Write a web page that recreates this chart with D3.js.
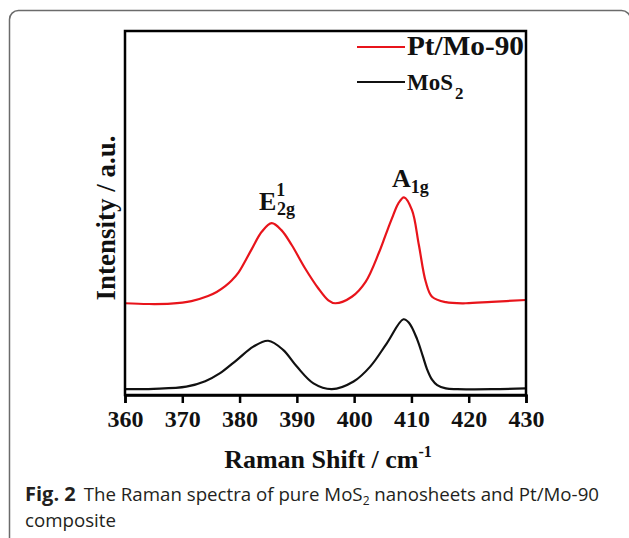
<!DOCTYPE html>
<html lang="en">
    <head>
        <meta charset="UTF-8" />
        <title>Raman spectra</title>
        <script src="https://d3js.org/d3.v7.min.js"></script>
        <style>
            body { margin: 0; background: #fff; }
            .serif { font-family: "Liberation Serif", "Times New Roman", serif; font-weight: bold; }
            .caption { font-family: "Open Sans", "Noto Sans", sans-serif; fill: #231f20; }
        </style>
    </head>
    <body>
        <div class="canvas"></div>
        <script>
            // Pt/Mo-90 spectrum (red)
            const ptShift = [360, 364, 368, 371.6, 374.5, 376, 377.5, 378.7, 379.8, 382.1, 383.9, 385.6, 387.3, 389.1, 391.4, 393.7, 395.5, 396.7, 399.6, 402, 404.3, 405.5, 406.6, 407.7, 408.7, 410.1, 411.3, 412.5, 413.6, 416, 419.5, 424, 430];
            const ptIntensity = [25.2, 25.0, 25.1, 25.8, 27.2, 28.3, 29.9, 31.6, 33.6, 40.0, 44.9, 47.2, 45.3, 41.2, 34.9, 29.4, 26.0, 25.2, 27.0, 31.1, 39.0, 44.0, 48.5, 52.6, 54.3, 50.8, 41.2, 31.1, 27.0, 25.5, 25.2, 25.6, 26.1];

            // pure MoS2 spectrum (black)
            const mosShift = [360, 365, 370.7, 374, 376.6, 379.5, 382.4, 385, 387.6, 390, 392.9, 396.1, 399.9, 402.8, 405.7, 408.6, 409.6, 411, 412, 412.7, 413.6, 414.5, 416, 418, 424, 430];
            const mosIntensity = [1.6, 1.7, 2.3, 3.8, 6.0, 9.6, 13.3, 14.9, 12.4, 7.8, 3.2, 1.6, 3.7, 7.8, 14.2, 20.8, 19.8, 15.3, 10.6, 7.2, 4.2, 2.7, 1.8, 1.6, 1.6, 1.8];

            const xTicks = [360, 370, 380, 390, 400, 410, 420, 430];

            const width = 629;
            const height = 538;
            let [mt, mb, mr, ml] = [31, 143, 103, 125];

            const svg = d3
                .select(".canvas")
                .append("svg")
                .attr("width", width)
                .attr("height", height);

            // outer rounded frame of the figure panel
            svg.append("rect")
                .attr("x", 9.5)
                .attr("y", 10.5)
                .attr("width", 621)
                .attr("height", 540)
                .attr("rx", 9)
                .attr("fill", "none")
                .attr("stroke", "#6b6b6b")
                .attr("stroke-width", 1.5);

            const x = d3.scaleLinear().domain([360, 430]).range([ml, width - mr]);
            const y = d3.scaleLinear().domain([0, 100]).range([height - mb, mt]);

            const line = d3
                .line()
                .x((d) => x(d[0]))
                .y((d) => y(d[1]))
                .curve(d3.curveCatmullRom);

            const series = [
                { name: "Pt/Mo-90", color: "#e8141b", shift: ptShift, value: ptIntensity },
                { name: "MoS", sub: "2", color: "#111", shift: mosShift, value: mosIntensity },
            ];

            series.forEach((s) => {
                svg.append("path")
                    .attr("fill", "none")
                    .attr("stroke", s.color)
                    .attr("stroke-width", 2.2)
                    .attr("d", line(s.shift.map((v, i) => [v, s.value[i]])));
            });

            // plot box
            svg.append("rect")
                .attr("x", x(360))
                .attr("y", y(100))
                .attr("width", x(430) - x(360))
                .attr("height", y(0) - y(100))
                .attr("fill", "none")
                .attr("stroke", "#000")
                .attr("stroke-width", 2.5);

            const xAxisG = svg
                .append("g")
                .attr("transform", `translate(0, ${y(0)})`)
                .call(d3.axisBottom(x).tickValues(xTicks).tickSize(8).tickFormat(d3.format("d")));
            xAxisG.select(".domain").attr("stroke-width", 2.5);
            xAxisG.selectAll(".tick line").attr("stroke-width", 2.5);
            xAxisG
                .selectAll("text")
                .attr("class", "serif")
                .attr("fill", "#111")
                .style("font-size", "24px")
                .attr("y", 15);

            // axis titles
            const xt = svg
                .append("text")
                .attr("class", "serif")
                .attr("x", 328)
                .attr("y", 468)
                .attr("text-anchor", "middle")
                .style("font-size", "26px")
                .attr("fill", "#111");
            xt.append("tspan").text("Raman Shift / cm");
            xt.append("tspan").attr("dy", -11).style("font-size", "16px").text("-1");

            svg.append("text")
                .attr("class", "serif")
                .attr("transform", "translate(115, 218) rotate(-90)")
                .attr("text-anchor", "middle")
                .style("font-size", "27px")
                .attr("fill", "#111")
                .text("Intensity / a.u.");

            // legend
            const legend = svg.append("g");
            series.forEach((s, i) => {
                const ly = 47 + i * 35;
                legend
                    .append("line")
                    .attr("x1", 357)
                    .attr("x2", 405)
                    .attr("y1", ly)
                    .attr("y2", ly)
                    .attr("stroke", s.color)
                    .attr("stroke-width", 2.2);
                const t = legend
                    .append("text")
                    .attr("class", "serif")
                    .attr("x", 407)
                    .attr("y", ly + 8)
                    .attr("fill", "#111")
                    .style("font-size", i === 0 ? "27px" : "23px");
                const nm = t.append("tspan").text(s.name);
                if (i === 0) nm.attr("textLength", 117).attr("lengthAdjust", "spacingAndGlyphs");
                if (s.sub) t.append("tspan").attr("dy", 9).attr("dx", 2).style("font-size", "17px").text(s.sub);
            });

            // peak labels
            const e = svg
                .append("text")
                .attr("class", "serif")
                .attr("x", 259)
                .attr("y", 210)
                .attr("fill", "#111")
                .style("font-size", "26px");
            e.append("tspan").text("E");
            e.append("tspan").attr("dy", -14).style("font-size", "18px").text("1");
            svg.append("text")
                .attr("class", "serif")
                .attr("x", 277)
                .attr("y", 215)
                .attr("fill", "#111")
                .style("font-size", "18px")
                .text("2g");

            const a = svg
                .append("text")
                .attr("class", "serif")
                .attr("x", 392)
                .attr("y", 187)
                .attr("fill", "#111")
                .style("font-size", "26px");
            a.append("tspan").text("A");
            a.append("tspan").attr("dy", 6).style("font-size", "18px").text("1g");

            // caption
            const cap = svg
                .append("text")
                .attr("class", "caption")
                .attr("x", 25)
                .attr("y", 501)
                .style("font-size", "18.7px");
            cap.append("tspan").style("font-weight", "bold").style("font-size", "20px").text("Fig. 2");
            cap.append("tspan").attr("dx", 8).text("The Raman spectra of pure MoS");
            cap.append("tspan").attr("dy", 4).style("font-size", "12px").text("2");
            cap.append("tspan").attr("dy", -4).text(" nanosheets and Pt/Mo-90");
            svg.append("text")
                .attr("class", "caption")
                .attr("x", 25)
                .attr("y", 527)
                .style("font-size", "18.7px")
                .text("composite");
        </script>
    </body>
</html>
